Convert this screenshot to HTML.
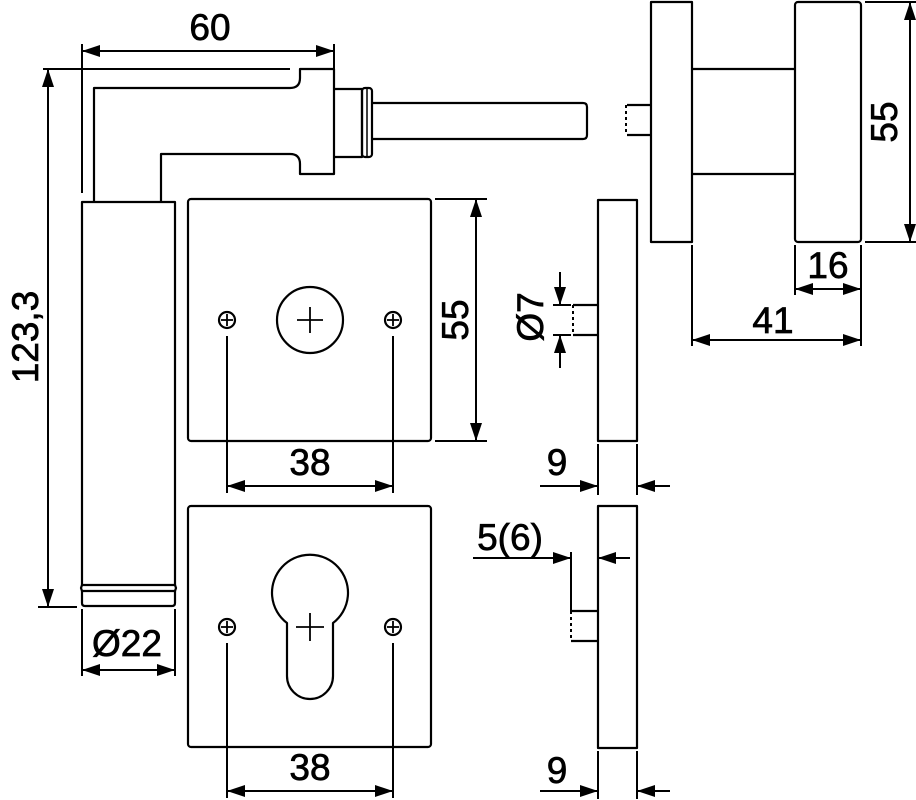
<!DOCTYPE html>
<html>
<head>
<meta charset="utf-8">
<style>
html,body{margin:0;padding:0;background:#fff;}
svg{display:block;}
text{font-family:"Liberation Sans","DejaVu Sans",sans-serif;font-size:37px;fill:#000;stroke:#000;stroke-width:0.7px;}
</style>
</head>
<body>
<svg width="916" height="800" viewBox="0 0 916 800" xmlns="http://www.w3.org/2000/svg">
<g fill="none" stroke="#000" stroke-width="2.2" stroke-linejoin="round">
  <!-- Lever handle -->
  <path d="M94,202 L94,88 L290,88 Q300,88 300,78 L300,69 L334,69 L334,174 L300,174 L300,164 Q300,154 290,154 L161,154 L161,202"/>
  <rect x="82" y="202" width="93" height="383"/>
  <path d="M82,585 L81,588 L82,591 M175,585 L176,588 L175,591"/>
  <line x1="82" y1="591" x2="175" y2="591"/>
  <path d="M82,591 L82,603 Q82,606 85,606 L172,606 Q175,606 175,603 L175,591"/>
  <!-- block, ring, spindle -->
  <path d="M334,89 L362,89 L362,157 L334,157"/>
  <rect x="362" y="88" width="10" height="69" rx="3"/>
  <line x1="367" y1="89" x2="367" y2="156" stroke-width="1.5"/>
  <path d="M372,103 L583,103 Q587,103 587,107 L587,135 Q587,139 583,139 L372,139"/>

  <!-- Top plate -->
  <rect x="188" y="199" width="243" height="242" rx="3"/>
  <circle cx="310" cy="320" r="33"/>
  <circle cx="227" cy="320" r="8"/>
  <circle cx="393" cy="320" r="8"/>
  <!-- Bottom plate -->
  <rect x="188" y="506" width="243" height="241" rx="3"/>
  <path d="M287,623 A38,38 0 1 1 333,623 L333,676 A23,23 0 0 1 287,676 Z"/>
  <circle cx="227" cy="627" r="8"/>
  <circle cx="393" cy="627" r="8"/>

  <!-- Side view top -->
  <rect x="598" y="200" width="39" height="241"/>
  <path d="M598,305 L573,305 M573,335 L598,335"/>
  <!-- Side view bottom -->
  <rect x="598" y="506" width="39" height="242"/>
  <path d="M598,611 L571,611 M571,641 L598,641"/>

  <!-- Knob -->
  <rect x="651" y="2" width="41" height="240"/>
  <rect x="795" y="2" width="66" height="240" rx="3"/>
  <line x1="692" y1="69" x2="795" y2="69"/>
  <line x1="692" y1="174" x2="795" y2="174"/>
  <path d="M651,105 L627,105 M627,135 L651,135"/>
</g>

<!-- dashed ends -->
<g stroke="#000" stroke-width="2" stroke-dasharray="3,3" fill="none">
  <line x1="573" y1="305" x2="573" y2="335"/>
  <line x1="571" y1="611" x2="571" y2="641"/>
  <line x1="626" y1="105" x2="626" y2="135"/>
</g>

<!-- crosses -->
<g stroke="#000" stroke-width="1.8">
  <line x1="297" y1="320" x2="323" y2="320"/><line x1="310" y1="307" x2="310" y2="333"/>
  <line x1="221" y1="320" x2="233" y2="320"/><line x1="227" y1="314" x2="227" y2="326"/>
  <line x1="387" y1="320" x2="399" y2="320"/><line x1="393" y1="314" x2="393" y2="326"/>
  <line x1="296" y1="627" x2="324" y2="627"/><line x1="310" y1="613" x2="310" y2="641"/>
  <line x1="221" y1="627" x2="233" y2="627"/><line x1="227" y1="621" x2="227" y2="633"/>
  <line x1="387" y1="627" x2="399" y2="627"/><line x1="393" y1="621" x2="393" y2="633"/>
</g>

<!-- dimension & extension lines -->
<g stroke="#000" stroke-width="2" fill="none">
  <!-- 60 -->
  <line x1="82" y1="51" x2="334" y2="51"/>
  <line x1="82" y1="44" x2="82" y2="193"/>
  <line x1="334" y1="44" x2="334" y2="69"/>
  <!-- 123,3 -->
  <line x1="43" y1="69" x2="290" y2="69"/>
  <line x1="48" y1="69" x2="48" y2="607"/>
  <line x1="38" y1="607" x2="77" y2="607"/>
  <!-- Ø22 -->
  <line x1="82" y1="609" x2="82" y2="676"/>
  <line x1="175" y1="609" x2="175" y2="676"/>
  <line x1="82" y1="670" x2="175" y2="670"/>
  <!-- top plate 38 / 55 -->
  <line x1="227" y1="336" x2="227" y2="493"/>
  <line x1="393" y1="336" x2="393" y2="493"/>
  <line x1="227" y1="486" x2="393" y2="486"/>
  <line x1="435" y1="199" x2="487" y2="199"/>
  <line x1="435" y1="441" x2="487" y2="441"/>
  <line x1="476" y1="199" x2="476" y2="441"/>
  <!-- bottom plate 38 -->
  <line x1="227" y1="643" x2="227" y2="798"/>
  <line x1="393" y1="643" x2="393" y2="798"/>
  <line x1="227" y1="791" x2="393" y2="791"/>
  <!-- Ø7 -->
  <line x1="553" y1="305" x2="571" y2="305"/>
  <line x1="553" y1="335" x2="571" y2="335"/>
  <line x1="560" y1="272" x2="560" y2="305"/>
  <line x1="560" y1="335" x2="560" y2="368"/>
  <!-- 9 top -->
  <line x1="598" y1="444" x2="598" y2="495"/>
  <line x1="637" y1="444" x2="637" y2="495"/>
  <line x1="540" y1="486" x2="598" y2="486"/>
  <line x1="637" y1="486" x2="670" y2="486"/>
  <!-- 5(6) -->
  <line x1="571" y1="552" x2="571" y2="611"/>
  <line x1="473" y1="558" x2="571" y2="558"/>
  <line x1="598" y1="558" x2="630" y2="558"/>
  <!-- 9 bottom -->
  <line x1="598" y1="751" x2="598" y2="799"/>
  <line x1="637" y1="751" x2="637" y2="799"/>
  <line x1="540" y1="791" x2="598" y2="791"/>
  <line x1="637" y1="791" x2="670" y2="791"/>
  <!-- knob 55 -->
  <line x1="865" y1="2" x2="916" y2="2"/>
  <line x1="865" y1="242" x2="916" y2="242"/>
  <line x1="910" y1="2" x2="910" y2="242"/>
  <!-- 16 / 41 -->
  <line x1="795" y1="245" x2="795" y2="295"/>
  <line x1="861" y1="245" x2="861" y2="346"/>
  <line x1="692" y1="245" x2="692" y2="346"/>
  <line x1="795" y1="289" x2="861" y2="289"/>
  <line x1="692" y1="340" x2="861" y2="340"/>
</g>

<!-- arrowheads -->
<g fill="#000" stroke="none">
  <!-- 60 -->
  <polygon points="82,51 100,45 100,57"/><polygon points="334,51 316,45 316,57"/>
  <!-- 123,3 -->
  <polygon points="48,69 42,87 54,87"/><polygon points="48,607 42,589 54,589"/>
  <!-- Ø22 -->
  <polygon points="82,670 100,664 100,676"/><polygon points="175,670 157,664 157,676"/>
  <!-- 38 top -->
  <polygon points="227,486 245,480 245,492"/><polygon points="393,486 375,480 375,492"/>
  <!-- 55 plate -->
  <polygon points="476,199 470,217 482,217"/><polygon points="476,441 470,423 482,423"/>
  <!-- 38 bottom -->
  <polygon points="227,791 245,785 245,797"/><polygon points="393,791 375,785 375,797"/>
  <!-- Ø7 -->
  <polygon points="560,305 554,287 566,287"/><polygon points="560,335 554,353 566,353"/>
  <!-- 9 top -->
  <polygon points="598,486 580,480 580,492"/><polygon points="637,486 655,480 655,492"/>
  <!-- 5(6) -->
  <polygon points="571,558 553,552 553,564"/><polygon points="598,558 616,552 616,564"/>
  <!-- 9 bottom -->
  <polygon points="598,791 580,785 580,797"/><polygon points="637,791 655,785 655,797"/>
  <!-- knob 55 -->
  <polygon points="910,2 904,20 916,20"/><polygon points="910,242 904,224 916,224"/>
  <!-- 16 -->
  <polygon points="795,289 813,283 813,295"/><polygon points="861,289 843,283 843,295"/>
  <!-- 41 -->
  <polygon points="692,340 710,334 710,346"/><polygon points="861,340 843,334 843,346"/>
</g>

<!-- labels -->
<g text-anchor="middle">
  <text x="210" y="40">60</text>
  <text x="127" y="656">Ø22</text>
  <text x="310" y="475">38</text>
  <text x="310" y="780">38</text>
  <text x="557" y="475">9</text>
  <text x="557" y="783">9</text>
  <text x="510" y="550">5(6)</text>
  <text x="828" y="278">16</text>
  <text x="773" y="333">41</text>
  <text transform="translate(25,337) rotate(-90)" x="0" y="13">123,3</text>
  <text transform="translate(455,320) rotate(-90)" x="0" y="13">55</text>
  <text transform="translate(530,317) rotate(-90)" x="0" y="13">Ø7</text>
  <text transform="translate(884,122) rotate(-90)" x="0" y="13">55</text>
</g>
</svg>
</body>
</html>
